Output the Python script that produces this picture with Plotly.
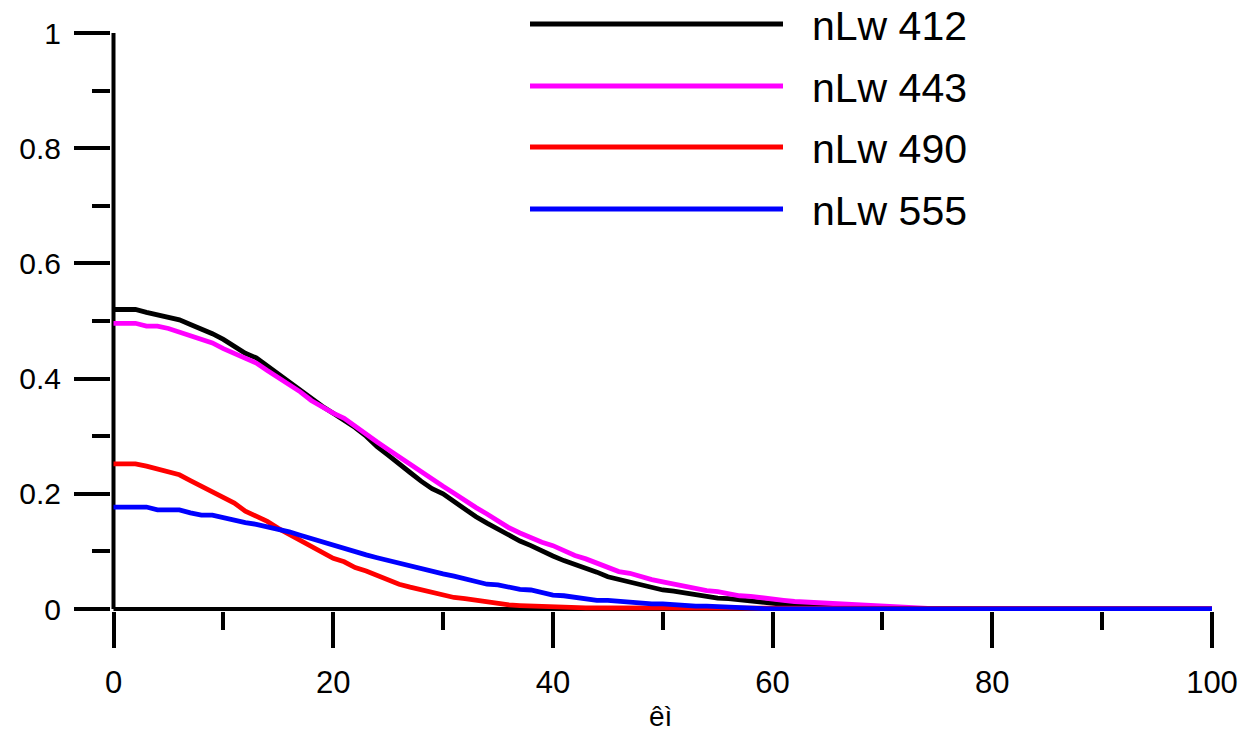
import plotly.graph_objects as go

# ---------------- data ----------------
x_vals = list(range(0, 101))

nlw412 = [
    0.520, 0.520, 0.520, 0.515, 0.511, 0.507, 0.502, 0.494, 0.487, 0.478,
    0.468, 0.456, 0.444, 0.436, 0.422, 0.407, 0.393, 0.380, 0.365, 0.352,
    0.340, 0.328, 0.315, 0.300, 0.282, 0.267, 0.251, 0.237, 0.222, 0.209,
    0.200, 0.186, 0.172, 0.160, 0.149, 0.138, 0.128, 0.118, 0.110, 0.100,
    0.092, 0.084, 0.078, 0.070, 0.064, 0.056, 0.051, 0.047, 0.043, 0.038,
    0.033, 0.031, 0.028, 0.024, 0.022, 0.019, 0.018, 0.016, 0.013, 0.010,
    0.008, 0.007, 0.006, 0.005, 0.004, 0.003, 0.002, 0.002, 0.001, 0.001,
    0.000, 0.000, 0.000, 0.000, 0.000, 0.000, 0.000, 0.000, 0.000, 0.000,
    0.000, 0.000, 0.000, 0.000, 0.000, 0.000, 0.000, 0.000, 0.000, 0.000,
    0.000, 0.000, 0.000, 0.000, 0.000, 0.000, 0.000, 0.000, 0.000, 0.000,
    0.000,
]

nlw443 = [
    0.496, 0.496, 0.496, 0.491, 0.491, 0.487, 0.481, 0.473, 0.468, 0.462,
    0.452, 0.443, 0.434, 0.427, 0.414, 0.402, 0.390, 0.377, 0.362, 0.350,
    0.340, 0.331, 0.317, 0.302, 0.290, 0.277, 0.264, 0.250, 0.237, 0.226,
    0.213, 0.201, 0.188, 0.176, 0.165, 0.153, 0.141, 0.132, 0.123, 0.116,
    0.110, 0.101, 0.093, 0.087, 0.079, 0.072, 0.065, 0.062, 0.056, 0.051,
    0.047, 0.043, 0.038, 0.035, 0.032, 0.030, 0.026, 0.023, 0.022, 0.019,
    0.017, 0.015, 0.013, 0.012, 0.010, 0.009, 0.007, 0.006, 0.005, 0.004,
    0.003, 0.002, 0.001, 0.000, 0.000, 0.000, 0.000, 0.000, 0.000, 0.000,
    0.000, 0.000, 0.000, 0.000, 0.000, 0.000, 0.000, 0.000, 0.000, 0.000,
    0.000, 0.000, 0.000, 0.000, 0.000, 0.000, 0.000, 0.000, 0.000, 0.000,
    0.000,
]

nlw490 = [
    0.252, 0.252, 0.252, 0.248, 0.243, 0.238, 0.233, 0.223, 0.213, 0.203,
    0.194, 0.184, 0.170, 0.162, 0.152, 0.140, 0.130, 0.120, 0.108, 0.098,
    0.088, 0.082, 0.072, 0.066, 0.058, 0.051, 0.043, 0.038, 0.033, 0.028,
    0.024, 0.020, 0.018, 0.015, 0.012, 0.008, 0.007, 0.006, 0.005, 0.004,
    0.003, 0.002, 0.002, 0.002, 0.002, 0.002, 0.002, 0.002, 0.001, 0.001,
    0.001, 0.001, 0.001, 0.001, 0.001, 0.001, 0.000, 0.000, 0.000, 0.000,
    0.000, 0.000, 0.000, 0.000, 0.000, 0.000, 0.000, 0.000, 0.000, 0.000,
    0.000, 0.000, 0.000, 0.000, 0.000, 0.000, 0.000, 0.000, 0.000, 0.000,
    0.000, 0.000, 0.000, 0.000, 0.000, 0.000, 0.000, 0.000, 0.000, 0.000,
    0.000, 0.000, 0.000, 0.000, 0.000, 0.000, 0.000, 0.000, 0.000, 0.000,
    0.000,
]

nlw555 = [
    0.177, 0.177, 0.177, 0.177, 0.172, 0.172, 0.172, 0.167, 0.163, 0.163,
    0.158, 0.154, 0.150, 0.147, 0.143, 0.139, 0.134, 0.128, 0.122, 0.117,
    0.111, 0.104, 0.099, 0.094, 0.089, 0.084, 0.079, 0.075, 0.070, 0.065,
    0.061, 0.057, 0.052, 0.047, 0.043, 0.042, 0.038, 0.034, 0.033, 0.029,
    0.024, 0.023, 0.020, 0.019, 0.015, 0.015, 0.013, 0.012, 0.010, 0.009,
    0.009, 0.007, 0.006, 0.005, 0.005, 0.004, 0.002, 0.001, 0.000, 0.000,
    0.000, 0.000, 0.000, 0.000, 0.000, 0.000, 0.000, 0.000, 0.000, 0.000,
    0.000, 0.000, 0.000, 0.000, 0.000, 0.000, 0.000, 0.000, 0.000, 0.000,
    0.000, 0.000, 0.000, 0.000, 0.000, 0.000, 0.000, 0.000, 0.000, 0.000,
    0.000, 0.000, 0.000, 0.000, 0.000, 0.000, 0.000, 0.000, 0.000, 0.000,
    0.000,
]

series_names = ["nLw 412", "nLw 443", "nLw 490", "nLw 555"]
series_values = [nlw412, nlw443, nlw490, nlw555]
series_colors = ["#000000", "#ff00ff", "#ff0000", "#0000ff"]

x_tickvals = [0, 20, 40, 60, 80, 100]
y_tickvals = [0, 0.2, 0.4, 0.6, 0.8, 1]
y_ticktext = ["0", "0.2", "0.4", "0.6", "0.8", "1"]
x_title = "êì"

# ---------------- layout geometry ----------------
W, H = 1239, 733
L, R, T, B = 111, 25, 31, 122
X0_PX, X_SCALE = 113.5, 10.985   # pixel of x=0, px per unit
Y0_PX, Y_SCALE = 609.0, 576.0    # pixel of y=0, px per unit
plot_w = W - L - R
plot_h = H - T - B
x_range = [(L - X0_PX) / X_SCALE, (L + plot_w - X0_PX) / X_SCALE]
y_range = [(Y0_PX - (T + plot_h)) / Y_SCALE, (Y0_PX - T) / Y_SCALE]


def px_to_paper(px, py):
    return (px - L) / plot_w, (T + plot_h - py) / plot_h


FONT = "Liberation Sans, Arial, sans-serif"

fig = go.Figure()
for name, vals, col in zip(series_names, series_values, series_colors):
    fig.add_trace(go.Scatter(
        x=x_vals[:len(vals)], y=vals, mode="lines", name=name,
        line=dict(color=col, width=4.8), showlegend=False,
    ))

shapes = [
    # axis lines (drawn under the data)
    dict(type="line", xref="x", yref="y", x0=0, x1=100, y0=0, y1=0,
         line=dict(color="black", width=4), layer="below"),
    dict(type="line", xref="x", yref="y", x0=0, x1=0, y0=0, y1=1,
         line=dict(color="black", width=4), layer="below"),
]
annotations = []

# legend (manual, long sample lines)
leg_y_px = [24, 86, 147, 209]
for name, col, ly in zip(series_names, series_colors, leg_y_px):
    xa, ya = px_to_paper(530, ly)
    xb, _ = px_to_paper(783, ly)
    shapes.append(dict(type="line", xref="paper", yref="paper",
                       x0=xa, x1=xb, y0=ya, y1=ya,
                       line=dict(color=col, width=5)))
    xt, yt = px_to_paper(810, ly + 2)
    annotations.append(dict(xref="paper", yref="paper", x=xt, y=yt,
                            text=name, showarrow=False, xanchor="left",
                            yanchor="middle",
                            font=dict(family=FONT, size=41, color="black")))

# x axis title
xt, yt = px_to_paper(660, 716)
annotations.append(dict(xref="paper", yref="paper", x=xt, y=yt, text=x_title,
                        showarrow=False, xanchor="center", yanchor="middle",
                        font=dict(family=FONT, size=28, color="black")))

fig.update_layout(
    width=W, height=H,
    margin=dict(l=L, r=R, t=T, b=B, pad=0, autoexpand=False),
    paper_bgcolor="white", plot_bgcolor="white",
    shapes=shapes, annotations=annotations,
    font=dict(family=FONT, color="black"),
    xaxis=dict(
        range=x_range, showgrid=False, zeroline=False, showline=False,
        automargin=False,
        tickmode="array", tickvals=x_tickvals,
        ticks="outside", ticklen=36, tickwidth=4, tickcolor="black",
        tickfont=dict(family=FONT, size=31, color="black"),
        ticklabelstandoff=8,
        minor=dict(ticks="outside", ticklen=18, tickwidth=4,
                   tickcolor="black", dtick=10, tick0=0, showgrid=False),
    ),
    yaxis=dict(
        range=y_range, showgrid=False, zeroline=False, showline=False,
        automargin=False,
        tickmode="array", tickvals=y_tickvals, ticktext=y_ticktext,
        ticks="outside", ticklen=36, tickwidth=4, tickcolor="black",
        tickfont=dict(family=FONT, size=30, color="black"),
        ticklabelstandoff=7,
        minor=dict(ticks="outside", ticklen=18, tickwidth=4,
                   tickcolor="black", dtick=0.1, tick0=0, showgrid=False),
    ),
)

fig.write_html("out.html")
